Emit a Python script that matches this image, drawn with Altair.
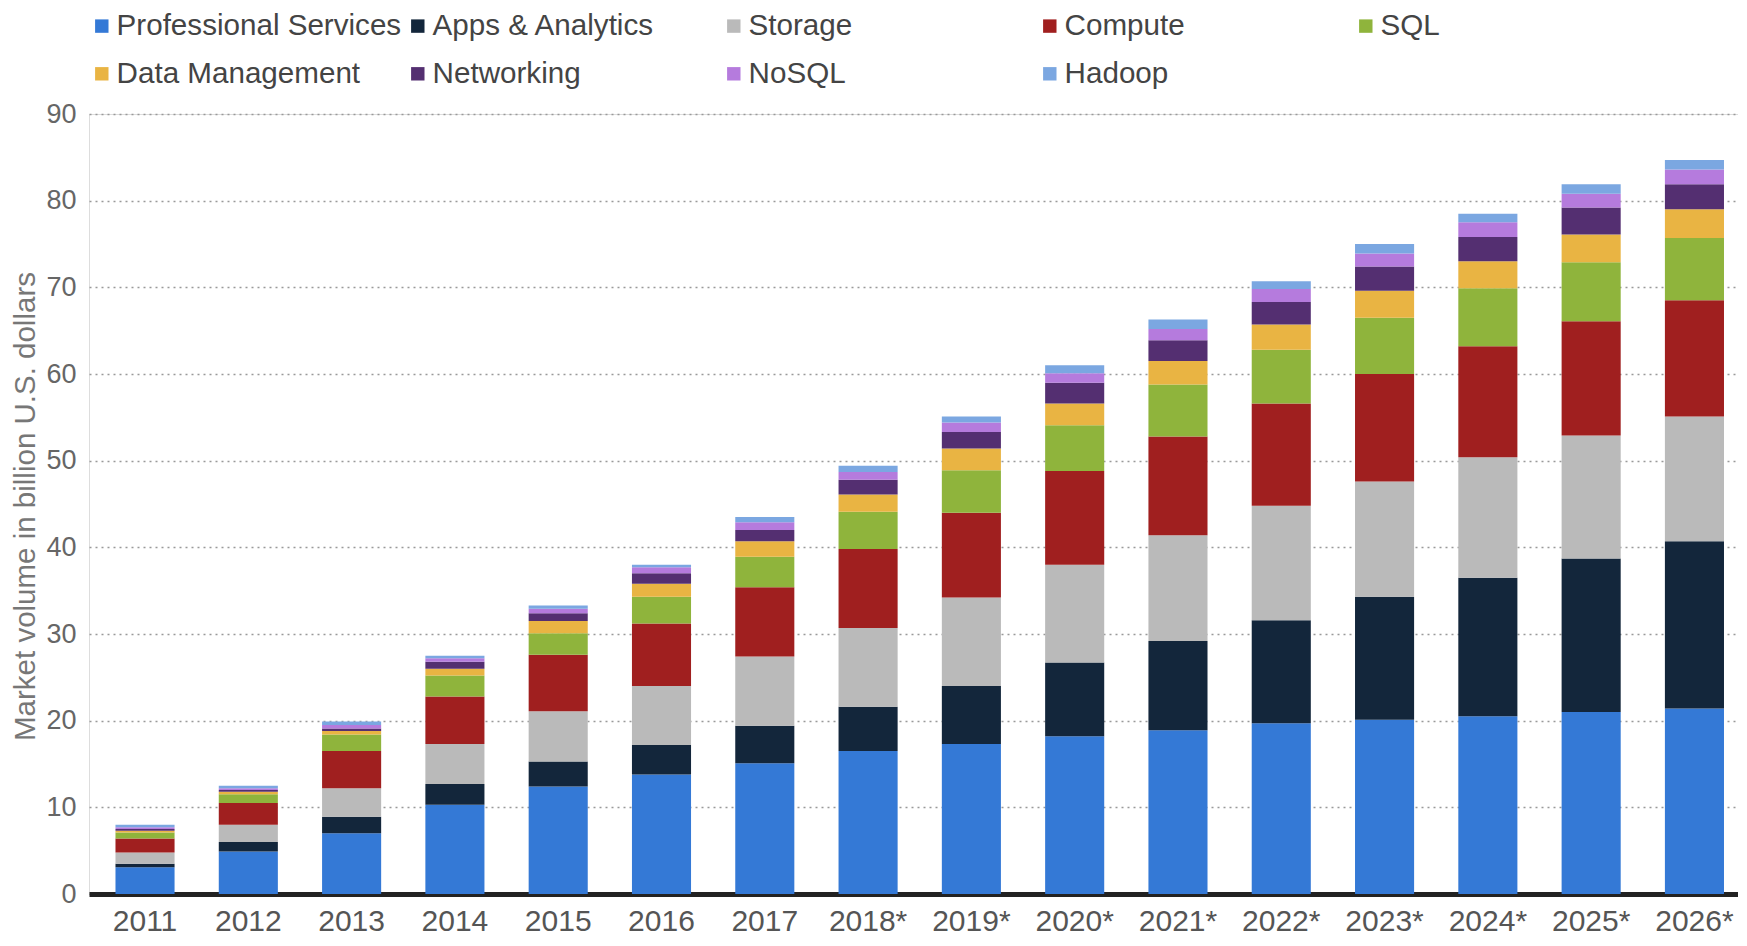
import altair as alt
import pandas as pd

years = ["2011", "2012", "2013", "2014", "2015", "2016", "2017", "2018*",
         "2019*", "2020*", "2021*", "2022*", "2023*", "2024*", "2025*", "2026*"]

segments = ["Professional Services", "Apps & Analytics", "Storage", "Compute", "SQL",
            "Data Management", "Networking", "NoSQL", "Hadoop"]

colors = ["#3479d6", "#13263b", "#bababa", "#a01f1f", "#8fb43c",
          "#e9b443", "#542f71", "#b57bdd", "#7ba7e1"]

professional_services = [3.1, 4.9, 7.0, 10.3, 12.4, 13.8, 15.1, 16.5, 17.3, 18.2, 18.9, 19.7, 20.1, 20.5, 21.0, 21.4]
apps_analytics = [0.4, 1.1, 1.9, 2.4, 2.9, 3.4, 4.3, 5.1, 6.7, 8.5, 10.3, 11.9, 14.2, 16.0, 17.7, 19.3]
storage = [1.3, 2.0, 3.3, 4.6, 5.8, 6.8, 8.0, 9.1, 10.2, 11.3, 12.2, 13.2, 13.3, 13.9, 14.2, 14.4]
compute = [1.6, 2.5, 4.3, 5.5, 6.5, 7.2, 8.0, 9.1, 9.8, 10.8, 11.4, 11.8, 12.4, 12.8, 13.2, 13.4]
sql = [0.7, 1.0, 1.9, 2.4, 2.5, 3.1, 3.5, 4.3, 4.9, 5.3, 6.0, 6.2, 6.5, 6.7, 6.8, 7.2]
data_management = [0.2, 0.3, 0.4, 0.8, 1.4, 1.5, 1.8, 2.0, 2.5, 2.5, 2.7, 2.9, 3.1, 3.1, 3.2, 3.3]
networking = [0.2, 0.2, 0.3, 0.8, 0.9, 1.2, 1.3, 1.7, 1.9, 2.4, 2.4, 2.6, 2.8, 2.8, 3.1, 2.9]
nosql = [0.2, 0.2, 0.4, 0.4, 0.5, 0.7, 0.9, 0.9, 1.1, 1.1, 1.3, 1.5, 1.5, 1.7, 1.6, 1.7]
hadoop = [0.3, 0.3, 0.4, 0.3, 0.4, 0.3, 0.6, 0.7, 0.7, 0.9, 1.1, 0.9, 1.1, 1.0, 1.1, 1.1]

series = [professional_services, apps_analytics, storage, compute, sql,
          data_management, networking, nosql, hadoop]

rows = []
for idx, (seg, vals) in enumerate(zip(segments, series)):
    for yr, v in zip(years, vals):
        rows.append({"year": yr, "segment": seg, "value": v, "idx": idx})
df = pd.DataFrame(rows)

# legend fills column by column (2 rows), so order the domain to read row-wise
legend_order = [0, 5, 1, 6, 2, 7, 3, 8, 4]
legend_domain = [segments[i] for i in legend_order]
legend_range = [colors[i] for i in legend_order]

FONT = "Liberation Sans"

chart = alt.Chart(df).mark_bar().encode(
    x=alt.X("year:N", sort=years,
            scale=alt.Scale(paddingInner=0.428, paddingOuter=0.196, align=0.654),
            axis=alt.Axis(title=None, labelAngle=0, labelFontSize=30, labelColor="#555555",
                          labelPadding=12, labelFont=FONT, domainColor="#222222", domainWidth=5,
                          ticks=False, grid=False)),
    y=alt.Y("value:Q", stack="zero",
            scale=alt.Scale(domain=[0, 90], nice=False),
            axis=alt.Axis(values=list(range(0, 91, 10)),
                          title="Market volume in billion U.S. dollars",
                          titleFontSize=29.5, titleColor="#777777", titleFontWeight="normal",
                          titleFont=FONT, titleX=-64, titleY=392, titleAngle=270,
                          titleAlign="center", titleBaseline="middle",
                          labelFontSize=27, labelColor="#666666", labelFont=FONT,
                          labelPadding=13, ticks=False, domain=False,
                          grid=True, gridDash=[2, 4], gridColor="#999999", gridWidth=1.5)),
    color=alt.Color("segment:N",
                    scale=alt.Scale(domain=legend_domain, range=legend_range),
                    legend=alt.Legend(title=None, orient="none", legendX=-2, legendY=-103,
                                      columns=5, gridAlign="all", columnPadding=1,
                                      rowPadding=17, symbolType="square", symbolSize=180,
                                      symbolStrokeWidth=0, labelFontSize=29.6,
                                      labelColor="#444444", labelFont=FONT, labelOffset=0,
                                      padding=0, labelLimit=500)),
    order=alt.Order("idx:Q", sort="ascending"),
).properties(
    width=1649, height=780,
    autosize=alt.AutoSizeParams(type="none"),
    padding={"left": 81, "top": 106, "right": 0, "bottom": 44},
).configure_view(stroke=None).configure(font=FONT)

chart.save("out.html", embed_options={"renderer": "svg", "actions": False})
